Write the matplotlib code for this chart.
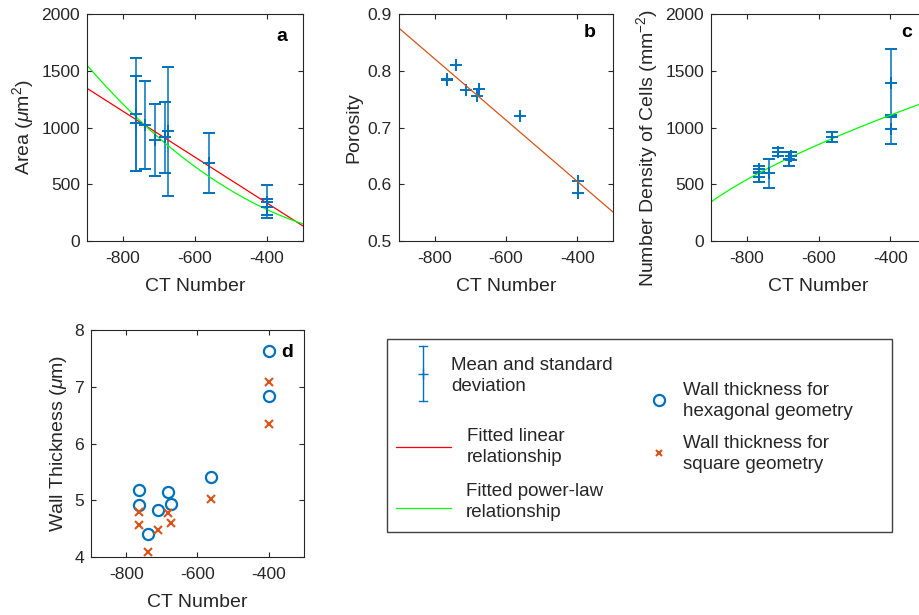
import matplotlib
matplotlib.use("Agg")
import matplotlib.pyplot as plt
import numpy as np

plt.rcParams['font.family'] = ['Liberation Sans', 'DejaVu Sans']
plt.rcParams['mathtext.fontset'] = 'custom'
plt.rcParams['mathtext.rm'] = 'Liberation Sans'
plt.rcParams['mathtext.it'] = 'Liberation Sans:italic'
plt.rcParams['axes.unicode_minus'] = False

# ---------------- data ----------------
ct_number = [-765, -765, -739, -712, -682, -676, -562, -399, -399]
area_mean = [1115, 1037, 1022, 890, 915, 967, 688, 345, 300]
area_std = [498, 419, 386, 314, 313, 569, 263, 145, 70]
porosity = [0.786, 0.784, 0.811, 0.766, 0.7555, 0.768, 0.720, 0.606, 0.584]
density_mean = [630, 565, 595, 782, 722, 748, 918, 1389, 983]
density_std = [30, 45, 130, 33, 62, 37, 44, 300, 124]
wall_hex = [5.18, 4.91, 4.40, 4.82, 5.14, 4.94, 5.41, 7.63, 6.83]
wall_square = [4.80, 4.56, 4.09, 4.47, 4.77, 4.60, 5.02, 7.09, 6.34]

# fitted relationships (coefficients)
area_linear = (-2.0217, -474.5)        # area = m*CT + c
area_power = (8.28e-4, 2.123)          # area = k*(-CT)^p
porosity_linear = (-5.4e-4, 0.389)     # porosity = m*CT + c
density_power = (17.0, 0.653)          # N = k*(CT+1000)^p

x_ticks = [-800, -600, -400]
area_ticks = [0, 500, 1000, 1500, 2000]
por_ticks = [0.5, 0.6, 0.7, 0.8, 0.9]
dens_ticks = [0, 500, 1000, 1500, 2000]
wall_ticks = [4, 5, 6, 7, 8]

BLUE = '#0072BD'
ORANGE = '#D95319'
RED = '#FF0000'
GREEN = '#00FF00'
AX_COL = '#262626'

W, H = 919, 615
fig = plt.figure(figsize=(W / 100, H / 100), dpi=100)


def make_ax(l, t, r, b):
    ax = fig.add_axes([l / W, 1 - b / H, (r - l) / W, (b - t) / H])
    for s in ax.spines.values():
        s.set_color(AX_COL)
        s.set_linewidth(0.8)
    ax.tick_params(direction='in', length=3.5, width=0.8, top=True, right=True,
                   colors=AX_COL, labelsize=12.6)
    ax.tick_params(axis='x', pad=7.5)
    ax.tick_params(axis='y', pad=5)
    ax.set_xlim(-900, -300)
    ax.set_xticks(x_ticks)
    return ax


def err(ax, y, e):
    ax.errorbar(ct_number, y, yerr=e, fmt='+', color=BLUE, ecolor=BLUE,
                elinewidth=1.1, capsize=4.5, capthick=1.1, markersize=8,
                mew=1.4)


xs = np.linspace(-900, -300, 200)
LBL = 14
XLP = 8

# ---- a ----
ax = make_ax(87, 14, 303, 241)
err(ax, area_mean, area_std)
ax.plot(xs, area_linear[0] * xs + area_linear[1], color=RED, lw=0.9)
ax.plot(xs, area_power[0] * (-xs) ** area_power[1], color=GREEN, lw=0.9)
ax.set_ylim(0, 2000)
ax.set_yticks(area_ticks)
ax.set_xlabel('CT Number', fontsize=LBL, color=AX_COL, labelpad=XLP)
ax.set_ylabel(r'Area ($\mu$m$^2$)', fontsize=LBL, color=AX_COL)
ax.text(0.9, 0.9, 'a', transform=ax.transAxes, fontsize=14, fontweight='bold',
        ha='center', va='center')

# ---- b ----
ax = make_ax(399, 14, 613, 241)
ax.plot(ct_number, porosity, '+', color=BLUE, markersize=8, mew=1.4)
ax.plot(xs, porosity_linear[0] * xs + porosity_linear[1], color=ORANGE, lw=0.9)
ax.set_ylim(0.5, 0.9)
ax.set_yticks(por_ticks)
ax.set_xlabel('CT Number', fontsize=LBL, color=AX_COL, labelpad=XLP)
ax.set_ylabel('Porosity', fontsize=LBL, color=AX_COL)
ax.text(0.89, 0.92, 'b', transform=ax.transAxes, fontsize=14, fontweight='bold',
        ha='center', va='center')

# ---- c ----
ax = make_ax(711, 14, 926, 241)
err(ax, density_mean, density_std)
ax.plot(xs, density_power[0] * (xs + 1000) ** density_power[1], color=GREEN, lw=0.9)
ax.set_ylim(0, 2000)
ax.set_yticks(dens_ticks)
ax.set_xlabel('CT Number', fontsize=LBL, color=AX_COL, labelpad=XLP)
ax.set_ylabel(r'Number Density of Cells (mm$^{-2}$)', fontsize=LBL, color=AX_COL)
ax.yaxis.set_label_coords(-0.235, 0.41)
ax.text(0.91, 0.92, 'c', transform=ax.transAxes, fontsize=14, fontweight='bold',
        ha='center', va='center')

# ---- d ----
ax = make_ax(91, 330, 304, 557)
ax.plot(ct_number, wall_hex, 'o', color=BLUE, mfc='none', markersize=8, mew=1.6)
ax.plot(ct_number, wall_square, 'x', color=ORANGE, markersize=5.5, mew=1.5)
ax.set_ylim(4, 8)
ax.set_yticks(wall_ticks)
ax.set_xlabel('CT Number', fontsize=LBL, color=AX_COL, labelpad=XLP)
ax.set_ylabel(r'Wall Thickness ($\mu$m)', fontsize=LBL, color=AX_COL)
ax.text(0.92, 0.9, 'd', transform=ax.transAxes, fontsize=14, fontweight='bold',
        ha='center', va='center')

# ---- legend (pixel coordinates overlay) ----
lg = fig.add_axes([0, 0, 1, 1])
lg.set_xlim(0, W)
lg.set_ylim(H, 0)
lg.axis('off')
lg.add_patch(plt.Rectangle((387, 339), 505, 193, fill=False, ec='#404040', lw=1.0))
LF = 13.5
# errorbar sample
lg.plot([423, 423], [346, 401], color=BLUE, lw=1.0)
lg.plot([419, 427], [346, 346], color=BLUE, lw=1.0)
lg.plot([419, 427], [401, 401], color=BLUE, lw=1.0)
lg.plot([423], [373.5], '+', color=BLUE, markersize=7, mew=1.0)
lg.text(451, 376, 'Mean and standard\ndeviation', fontsize=LF, color=AX_COL,
        va='center', ha='left', linespacing=1.25)
lg.plot([396, 451], [447, 447], color=RED, lw=0.9)
lg.text(467, 447, 'Fitted linear\nrelationship', fontsize=LF, color=AX_COL,
        va='center', ha='left', linespacing=1.25)
lg.plot([396, 451], [508, 508], color=GREEN, lw=0.9)
lg.text(466, 502, 'Fitted power-law\nrelationship', fontsize=LF, color=AX_COL,
        va='center', ha='left', linespacing=1.25)
lg.plot([659], [400], 'o', color=BLUE, mfc='none', markersize=8, mew=1.6)
lg.text(683, 401, 'Wall thickness for\nhexagonal geometry', fontsize=LF,
        color=AX_COL, va='center', ha='left', linespacing=1.25)
lg.plot([659], [453], 'x', color=ORANGE, markersize=5, mew=1.5)
lg.text(683, 454, 'Wall thickness for\nsquare geometry', fontsize=LF,
        color=AX_COL, va='center', ha='left', linespacing=1.25)

fig.savefig('out.png', dpi=100)
